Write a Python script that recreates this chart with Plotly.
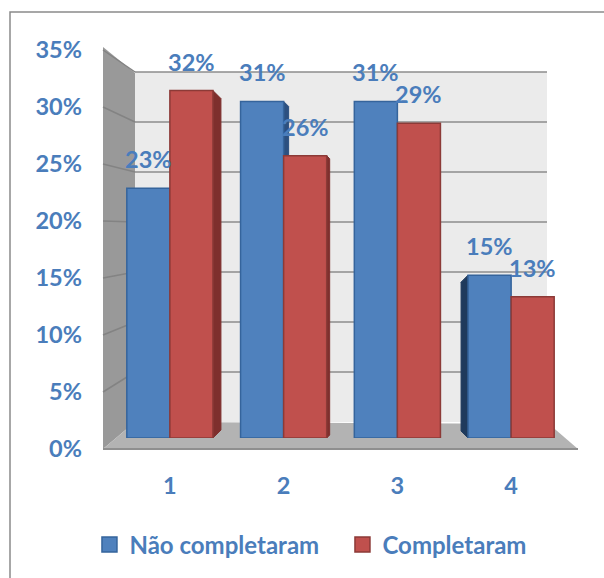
import plotly.graph_objects as go

# ---- data ----
categories = ["1", "2", "3", "4"]
nao_completaram = [0.23, 0.31, 0.31, 0.15]
completaram = [0.32, 0.26, 0.29, 0.13]
series_names = ["Não completaram", "Completaram"]
tick_values = [0, 0.05, 0.10, 0.15, 0.20, 0.25, 0.30, 0.35]
tick_labels = ["0%", "5%", "10%", "15%", "20%", "25%", "30%", "35%"]

# ---- layout helpers (pixel -> paper) ----
W, H = 604, 578
def px(x):
    return x / W
def py(y):
    return 1 - y / H

BLUE = "#4f81bd"
BLUE_LINE = "#35649c"
RED = "#c0504d"
RED_LINE = "#8c3a37"
TXT = "#4a7dbb"
FONT = "Lato"
FS = 23.5

ymax = 0.35
bar_dom = [py(438), py(58)]      # bars axis
lab_dom = [py(449), py(50)]      # tick-label axis
grid_dom = [py(422), py(72)]     # back wall grid
x_dom = [px(113), px(568)]
xs = list(range(len(categories)))
bargap = 0.243

fig = go.Figure()
fig.add_trace(go.Bar(x=xs, y=nao_completaram, name=series_names[0], showlegend=False,
                     marker=dict(color=BLUE, line=dict(color=BLUE_LINE, width=1.5)),
                     hoverinfo="skip"))
fig.add_trace(go.Bar(x=xs, y=completaram, name=series_names[1], showlegend=False,
                     marker=dict(color=RED, line=dict(color=RED_LINE, width=1.5)),
                     hoverinfo="skip"))
# legend entries (square keys)
for nm, col, lc in ((series_names[0], BLUE, BLUE_LINE), (series_names[1], RED, RED_LINE)):
    fig.add_trace(go.Scatter(x=[None], y=[None], name=nm, mode="markers",
                             marker=dict(symbol="square", size=15, color=col,
                                         line=dict(color=lc, width=1.5))))
# invisible trace to carry the labelled y axis
fig.add_trace(go.Scatter(x=xs, y=nao_completaram, yaxis="y2", mode="markers",
                         marker=dict(size=0, opacity=0), showlegend=False,
                         hoverinfo="skip"))

# data labels
half = (1 - bargap) / 4
annotations = []
for i, (a, b) in enumerate(zip(nao_completaram, completaram)):
    for off, v in ((-half, a), (half, b)):
        annotations.append(dict(x=i + off, y=v, xref="x", yref="y",
                                text=f"{v*100:.0f}%", showarrow=False,
                                yanchor="bottom", yshift=13,
                                font=dict(family=FONT, size=FS, color=TXT, weight="bold")))

# decorative 3D box: back wall, left wall, floor, grid lines
shapes = []
shapes.append(dict(type="rect", xref="paper", yref="paper", x0=px(135), x1=px(547),
                   y0=py(422), y1=py(72), fillcolor="#ebebeb", line=dict(width=0),
                   layer="below"))
shapes.append(dict(type="path", xref="paper", yref="paper",
                   path=f"M {px(103)},{py(47)} L {px(135)},{py(73)} L {px(135)},{py(422)} L {px(103)},{py(449)} Z",
                   fillcolor="#999999", line=dict(width=0), layer="below"))
shapes.append(dict(type="path", xref="paper", yref="paper",
                   path=f"M {px(103)},{py(449)} L {px(578)},{py(449)} L {px(549)},{py(424)} L {px(135)},{py(422)} Z",
                   fillcolor="#b3b3b3", line=dict(width=0), layer="below"))
shapes.append(dict(type="line", xref="paper", yref="paper", x0=px(103), x1=px(578),
                   y0=py(449), y1=py(449), line=dict(color="#8f8f8f", width=2), layer="below"))
for v in tick_values:
    gy = grid_dom[0] + v / ymax * (grid_dom[1] - grid_dom[0])
    ly = lab_dom[0] + v / ymax * (lab_dom[1] - lab_dom[0])
    if v > 0:
        shapes.append(dict(type="line", xref="paper", yref="paper", x0=px(135), x1=px(547),
                           y0=gy, y1=gy, line=dict(color="#8c8c8c", width=1.5), layer="below"))
        shapes.append(dict(type="line", xref="paper", yref="paper", x0=px(103), x1=px(135),
                           y0=ly, y1=gy, line=dict(color="#838383", width=1.5), layer="below"))

# 3D side faces of the bars (depth in px per bar, sign = side)
def xpaper(xv):
    return x_dom[0] + (xv + 0.5) / len(categories) * (x_dom[1] - x_dom[0])
def ypaper(v):
    return bar_dom[0] + v / ymax * (bar_dom[1] - bar_dom[0])
side_specs = [  # (series index, category index, depth px, color)
    (1, 0, 8, "#7e2f2d"),
    (0, 1, 5, "#2c5080"),
    (1, 1, 3, "#7e2f2d"),
    (0, 3, -7, "#1f3a5c"),
]
series_vals = [nao_completaram, completaram]
for s, c, d, col in side_specs:
    v = series_vals[s][c]
    left = c + (-2 * half if s == 0 else 0)
    edge = left + 2 * half if d > 0 else left
    ex = xpaper(edge)
    ox = px(abs(d)) * (1 if d > 0 else -1)
    slant = abs(d) / H
    y_top = ypaper(v)
    y_bot = ypaper(0)
    path = (f"M {ex},{y_bot} L {ex},{y_top} L {ex + ox},{y_top - slant} "
            f"L {ex + ox},{y_bot + slant} Z")
    shapes.append(dict(type="path", xref="paper", yref="paper", path=path,
                       fillcolor=col, line=dict(color=col, width=1), layer="below"))

# chart border
shapes.append(dict(type="rect", xref="paper", yref="paper", x0=px(10), x1=px(640),
                   y0=py(620), y1=py(12), line=dict(color="#8a8a8a", width=1.5),
                   fillcolor="rgba(0,0,0,0)", layer="below"))

tickfont = dict(family=FONT, size=FS, color=TXT, weight="bold")
fig.update_layout(
    width=W, height=H,
    margin=dict(l=0, r=0, t=0, b=0, pad=0, autoexpand=False),
    paper_bgcolor="white", plot_bgcolor="rgba(0,0,0,0)",
    barmode="group", bargap=bargap, bargroupgap=0,
    xaxis=dict(domain=x_dom, range=[-0.5, 3.5], tickvals=xs,
               ticktext=categories, anchor="y2", showgrid=False, zeroline=False,
               showline=False, ticks="", tickfont=tickfont, ticklabelstandoff=20,
               fixedrange=True, automargin=False),
    yaxis=dict(domain=bar_dom, range=[0, ymax], visible=False, anchor="x",
               fixedrange=True, automargin=False),
    yaxis2=dict(domain=lab_dom, range=[0, ymax], anchor="x", tickvals=tick_values,
                ticktext=tick_labels, showgrid=False, zeroline=False, showline=False,
                ticks="", tickfont=tickfont, ticklabelstandoff=30, fixedrange=True,
                automargin=False),
    shapes=shapes,
    annotations=annotations,
    legend=dict(orientation="h", x=0.567, xanchor="center", y=py(545), yanchor="middle",
                font=dict(family=FONT, size=24, color=TXT, weight="bold"),
                itemsizing="trace", itemwidth=30, entrywidth=208, entrywidthmode="pixels",
                bgcolor="rgba(0,0,0,0)"),
    showlegend=True,
)
fig.write_html("out.html")
